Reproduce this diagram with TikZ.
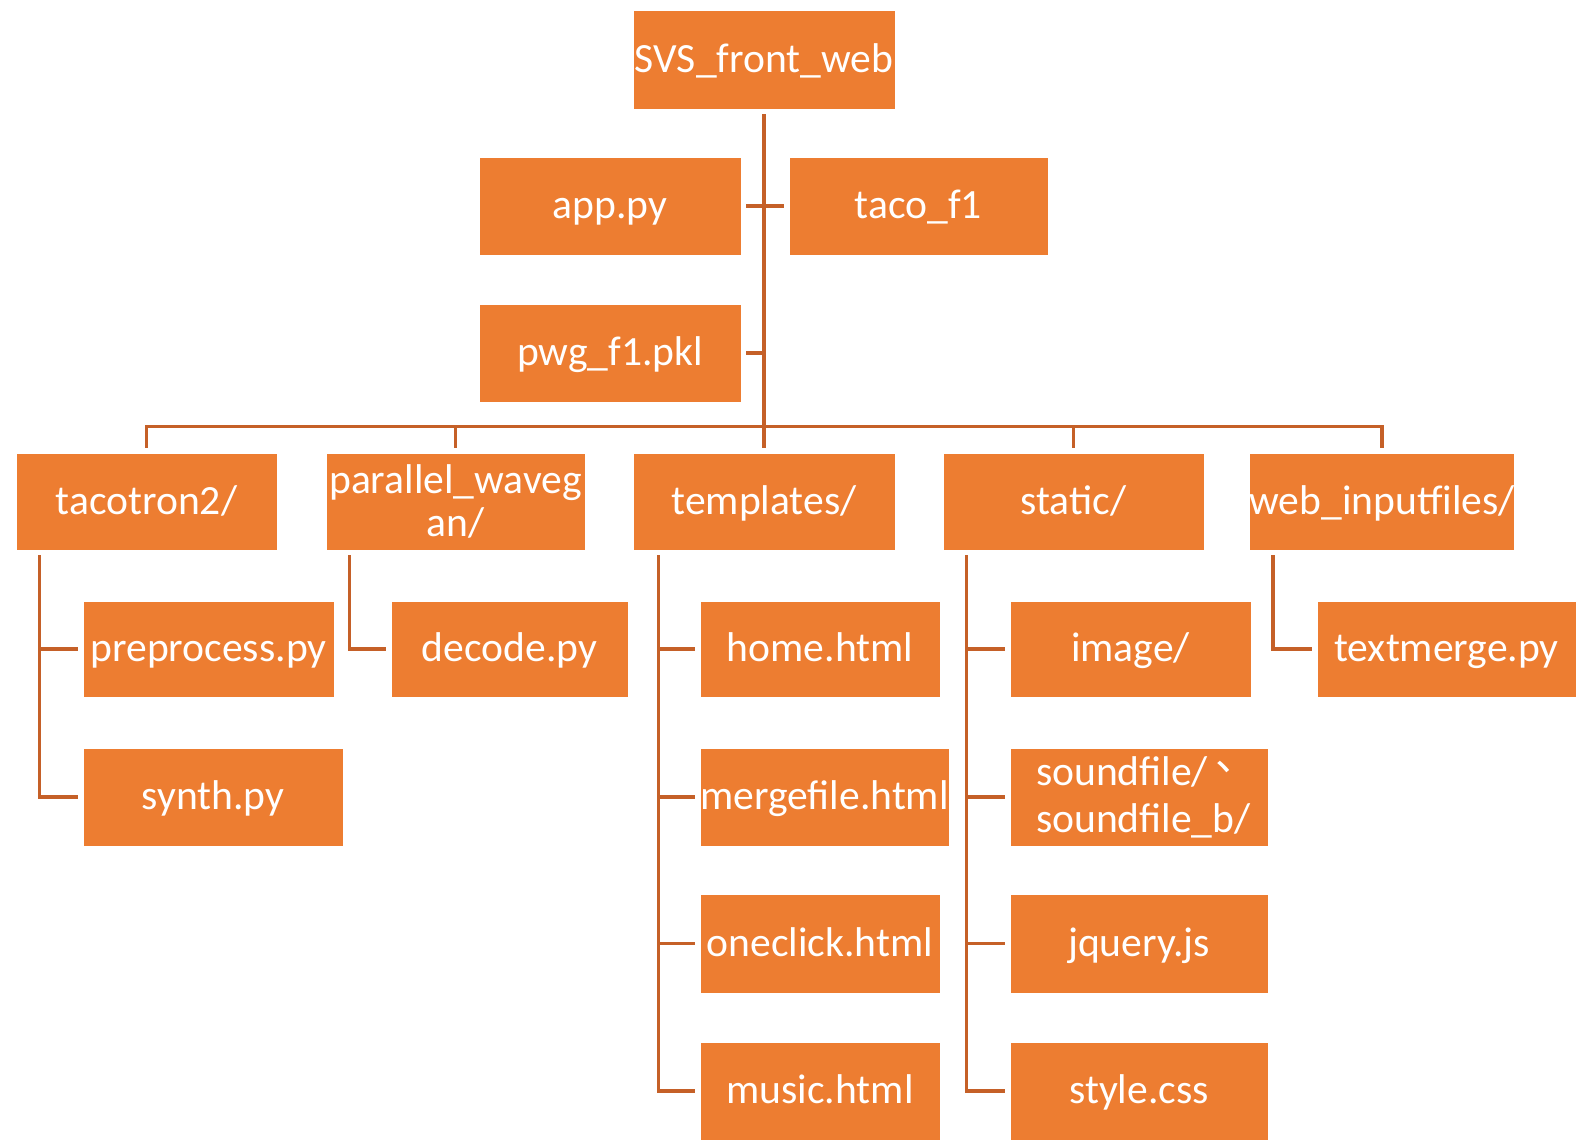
\documentclass[tikz,border=0pt]{standalone}
\usepackage{fontspec}
\setmainfont{Carlito}
\newfontfamily\cjkfont{Noto Sans CJK SC}
\usetikzlibrary{calc}
\definecolor{boxfill}{HTML}{ED7D31}
\definecolor{linecol}{RGB}{197,96,40}
\newcommand\bx[6]{\node[box,minimum width={(#4-#2)*0.5pt},minimum height={(#5-#3)*0.5pt}] (#1) at ({(#2+#4)/2},{(#3+#5)/2}) {#6};}
\begin{document}
\begin{tikzpicture}[x=0.5pt,y=-0.5pt,
  boxbase/.style={fill=boxfill,draw=white,line width=0.3pt,inner sep=0pt,text=white,
    font=\fontsize{20.8}{21.5}\selectfont},
  box/.style={boxbase,text height=16pt,text depth=3pt},
  conn/.style={draw=linecol,line width=1.6pt}]
\fill[white] (0,0) rectangle (1576,1143);
\useasboundingbox (0,0) rectangle (1576,1143);
\bx{svs}{633}{10}{895}{109}{SVS\_front\_web}
\bx{app}{479}{157}{741}{255}{app.py}
\bx{taco}{789}{157}{1048}{255}{taco\_f1}
\bx{pwg}{479}{304}{741}{402}{pwg\_f1.pkl}
\bx{tac}{16}{453}{277}{550}{tacotron2/}
\node[boxbase,align=center,minimum width={129.5pt},minimum height={48.5pt}] (par) at (455.5,501.5) {parallel\_waveg\\an/};
\bx{tmpl}{633}{453}{895}{550}{templates/}
\bx{stat}{943}{453}{1204}{550}{static/}
\bx{web}{1252}{453}{1512}{550}{web\_inputfiles/}
\bx{pre}{83}{601}{334}{697}{preprocess.py}
\bx{syn}{83}{748}{343}{846}{synth.py}
\bx{dec}{391}{601}{628}{697}{decode.py}
\bx{home}{700}{601}{940}{697}{home.html}
\bx{merge}{700}{748}{949}{846}{mergefile.html}
\bx{one}{700}{894}{940}{993}{oneclick.html}
\bx{mus}{700}{1042}{940}{1140}{music.html}
\bx{img}{1010}{601}{1251}{697}{image/}
\node[boxbase,minimum width={129pt},minimum height={49pt},font=\fontsize{20.8}{23.5}\selectfont,align=left,text width=103pt] (snd) at (1139,797) {soundfile/\,{\cjkfont\raisebox{0.35em}{、}}\\soundfile\_b/};
\bx{jq}{1010}{894}{1268}{993}{jquery.js}
\bx{css}{1010}{1042}{1268}{1140}{style.css}
\bx{txt}{1317}{601}{1576}{697}{textmerge.py}
% trunk
\draw[conn] ($(svs.south)+(0,5)$) -- ($(tmpl.north)+(0,-5)$);
\draw[conn] ($(app.east)+(5,0)$) -- ($(taco.west)+(-5,0)$);
\coordinate (trunk) at (svs.south);
\draw[conn] ($(pwg.east)+(5,0)$) -- (pwg.east -| trunk);
% bar
\draw[conn] ($(tac.north)+(0,-5)$) -- ++(0,-21) -| ($(web.north)+(0,-5)$);
\draw[conn] ($(par.north)+(0,-5)$) -- ++(0,-21);
\draw[conn] ($(stat.north)+(0,-5)$) -- ++(0,-21);
% children lines
\coordinate (tl) at ($(tac.south west)+(24,5)$);
\draw[conn] (tl) |- ($(syn.west)+(-5,0)$);
\draw[conn] ($(pre.west)+(-5,0)$) -- (pre.west -| tl);
\coordinate (pl) at ($(par.south west)+(24,5)$);
\draw[conn] (pl) |- ($(dec.west)+(-5,0)$);
\coordinate (ml) at ($(tmpl.south west)+(26,5)$);
\draw[conn] (ml) |- ($(mus.west)+(-5,0)$);
\draw[conn] ($(home.west)+(-5,0)$) -- (home.west -| ml);
\draw[conn] ($(merge.west)+(-5,0)$) -- (merge.west -| ml);
\draw[conn] ($(one.west)+(-5,0)$) -- (one.west -| ml);
\coordinate (sl) at ($(stat.south west)+(24,5)$);
\draw[conn] (sl) |- ($(css.west)+(-5,0)$);
\draw[conn] ($(img.west)+(-5,0)$) -- (img.west -| sl);
\draw[conn] ($(snd.west)+(-5,0)$) -- (snd.west -| sl);
\draw[conn] ($(jq.west)+(-5,0)$) -- (jq.west -| sl);
\coordinate (wl) at ($(web.south west)+(24,5)$);
\draw[conn] (wl) |- ($(txt.west)+(-5,0)$);
\end{tikzpicture}
\end{document}
